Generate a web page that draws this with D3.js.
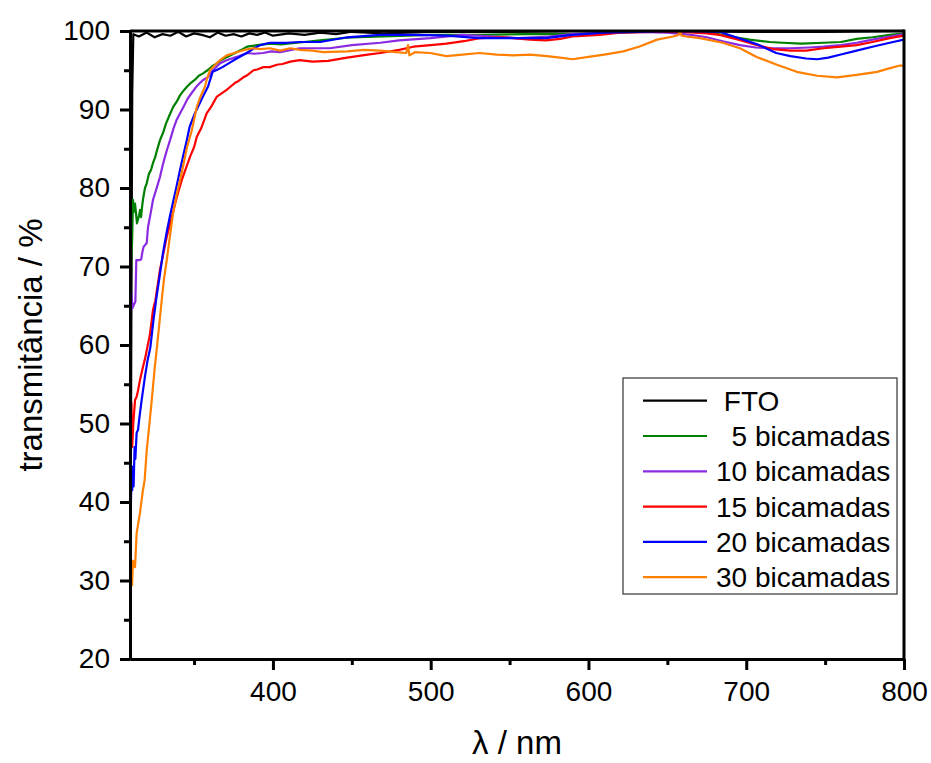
<!DOCTYPE html>
<html>
<head>
<meta charset="utf-8">
<script src="https://cdn.jsdelivr.net/npm/d3@7"></script>
<style>
  body { margin: 0; background: #fff; }
  text { font-family: "Liberation Sans", Arial, sans-serif; fill: #000; }
</style>
</head>
<body>
<div id="grafika"></div>
<script>
// wavelength (nm) and transmittance (%) per sample
const fto_wl = [309.6, 310.2, 310.8, 311.5, 315, 320, 325, 330, 335, 340, 345, 350, 355, 360, 365, 370, 375, 380, 385, 390, 395, 400, 410, 420, 430, 440, 450, 470, 500, 550, 600, 650, 700, 750, 800];
const fto_t = [22, 60, 92, 99.6, 99.3, 99.8, 99.2, 99.6, 99.4, 99.9, 99.3, 99.7, 99.5, 99.2, 99.8, 99.4, 99.6, 99.3, 99.7, 99.5, 99.8, 99.4, 99.7, 99.5, 99.8, 99.6, 99.9, 99.7, 99.9, 99.9, 100, 100, 99.9, 99.9, 100];

const b5_wl = [309.8, 310.3, 310.7, 311.3, 312, 312.6, 313.2, 313.8, 314.5, 315.1, 315.8, 316.4, 317, 317.6, 318.9, 320, 321.4, 322.7, 324, 325.3, 326.5, 328.4, 330.3, 332.2, 334.5, 336.7, 339, 341.1, 343.3, 345.5, 348, 350.6, 353, 355.7, 358.5, 361.4, 364, 366.5, 371, 376, 380, 383.6, 390, 398.2, 405, 415.3, 430, 450, 470, 500, 530, 560, 590, 620, 650, 670, 680, 690, 702, 715, 723, 735, 749, 760, 770, 780, 791, 800];
const b5_t = [65, 72, 73, 78.5, 77, 78, 76.8, 75.5, 76, 76.5, 77.2, 76.3, 77.5, 78.5, 80, 80.6, 81.8, 82.3, 83.2, 83.9, 84.8, 86.1, 87.0, 88.2, 89.3, 90.3, 91.0, 91.8, 92.4, 92.9, 93.4, 93.8, 94.3, 94.6, 95.0, 95.5, 95.8, 96.2, 96.7, 97.2, 97.6, 98.0, 98.2, 98.4, 98.3, 98.5, 98.8, 99.2, 99.3, 99.5, 99.5, 99.6, 99.6, 99.8, 100, 99.9, 99.7, 99.3, 98.9, 98.6, 98.5, 98.4, 98.5, 98.6, 99.0, 99.2, 99.5, 99.7];

const b10_wl = [309.8, 310.3, 311, 312, 312.8, 313.4, 315, 316.5, 317.2, 318, 320, 320.8, 322.5, 324, 326, 328.4, 330, 331.6, 333.2, 334.8, 337, 339, 341.1, 344, 346, 348.5, 351, 353.8, 356, 358.8, 362, 366.5, 371, 377, 383.4, 388, 393.7, 399, 404.5, 417, 436, 450, 468, 480, 500, 520, 540, 555, 575, 590, 610, 630, 650, 665, 675, 685, 696, 706, 717, 728, 740, 749, 760, 770, 780, 791, 800];
const b10_t = [62, 66.6, 64.7, 65.2, 65.5, 70.8, 70.8, 70.9, 71.8, 72.5, 73, 75, 76.8, 78.5, 79.8, 81.4, 82.8, 84, 85.1, 86.1, 87.6, 88.7, 89.5, 90.6, 91.4, 92.1, 92.8, 93.4, 93.8, 94.1, 95.0, 95.9, 96.3, 96.7, 97.2, 97.1, 97.2, 97.4, 97.3, 97.8, 97.8, 98.2, 98.5, 98.8, 99.1, 99.5, 99.3, 99.1, 99.3, 99.6, 99.8, 99.9, 99.8, 99.5, 99.2, 98.7, 98.2, 97.9, 97.8, 97.8, 97.9, 98.0, 98.2, 98.5, 98.9, 99.3, 99.6];

const b15_wl = [309.8, 310.3, 310.8, 311.5, 312.6, 313.6, 314.5, 315.7, 317.6, 319, 320.5, 322, 324, 325.5, 328.4, 330.5, 332.7, 334.5, 337, 339, 342.2, 345, 347.5, 350, 351.7, 354.5, 358, 361, 364.3, 367, 370.7, 373, 376, 378, 381.3, 384, 387.7, 390, 394, 398, 402.5, 406, 411, 417, 425, 435, 447, 460, 468, 480, 489, 500, 510, 521, 531, 545, 552, 563, 573, 582, 590, 607, 620, 640, 660, 675, 683, 695, 707, 717, 728, 738, 749, 760, 770, 780, 791, 800];
const b15_t = [46, 52.6, 47, 50, 53, 53.4, 54.2, 55.5, 57.2, 58.3, 59.8, 61.3, 64.5, 65.7, 69.6, 71.6, 73.8, 75.2, 77.2, 78.8, 81, 82.6, 84, 85.2, 86.5, 87.6, 89.5, 90.4, 91.6, 92.0, 92.5, 92.9, 93.4, 93.6, 94.1, 94.4, 95, 95.1, 95.4, 95.4, 95.7, 95.8, 96.1, 96.3, 96.1, 96.2, 96.6, 97.0, 97.2, 97.6, 98.0, 98.2, 98.4, 98.7, 99.1, 99.2, 99.1, 98.9, 98.8, 99.0, 99.3, 99.5, 99.8, 99.9, 99.9, 99.7, 99.5, 98.9, 98.2, 97.7, 97.5, 97.5, 97.8, 98.0, 98.2, 98.6, 99.1, 99.4];

const b20_wl = [309.8, 310.3, 310.8, 311.3, 311.7, 312.3, 312.8, 313.6, 314.5, 315.2, 316.8, 318.9, 320.5, 322.3, 324.3, 326.2, 328, 330.3, 332.5, 334.6, 336.8, 338.8, 341, 343, 345.3, 347.2, 350.5, 353.8, 356, 358.8, 361.8, 365, 368, 373, 377, 383.4, 388, 392, 398, 408.7, 417, 430, 447, 468, 489, 510, 531, 552, 573, 590, 610, 630, 660, 683, 695, 707, 719, 728, 738, 745, 752, 760, 770, 780, 791, 800];
const b20_t = [38, 42.8, 41.5, 44.5, 42, 47, 45.5, 48.8, 49.2, 50.5, 53, 56, 58, 59.7, 63.2, 66.1, 68.5, 71.7, 74.2, 76.3, 78.3, 80.1, 82.2, 84, 86, 87.8, 89.5, 90.9, 91.8, 92.9, 94.8, 95.1, 95.4, 96.0, 96.5, 97.2, 97.8, 98.2, 98.5, 98.5, 98.6, 98.6, 99.2, 99.5, 99.5, 99.4, 99.1, 99.1, 99.1, 99.5, 99.8, 99.9, 100, 99.9, 99.1, 98.3, 97.2, 96.8, 96.5, 96.4, 96.6, 97.0, 97.5, 98.0, 98.5, 98.9];

const b30_wl = [309.8, 310.3, 310.7, 311.3, 312.6, 313.6, 315.7, 317.6, 318.7, 320, 321.5, 323.2, 324.8, 326.3, 327.8, 329.5, 331, 332.7, 334.8, 336.7, 339, 341.1, 343.3, 345.3, 348.5, 351.7, 354, 356.9, 358, 360.1, 363, 366.5, 370.7, 377, 382, 387.4, 392, 398.2, 404.5, 411, 417, 425, 432, 447, 458, 468, 478, 484.5, 485.6, 486.5, 490, 499.6, 510, 520, 531, 542, 552, 563, 573.7, 582, 590, 600, 610, 622, 632, 643.5, 653.6, 657, 658, 659, 662, 670.7, 685, 696, 706.6, 719.5, 732, 745, 757.6, 770, 783, 790, 797.5, 800];
const b30_t = [29, 32.6, 29.4, 32.5, 31.7, 36, 38.6, 41.5, 42.8, 46.6, 49.5, 53, 56.5, 59.4, 62.3, 65.7, 68.5, 70.8, 74, 76.8, 79.2, 81, 83, 85, 87.3, 90.3, 91.6, 92.9, 93.8, 95, 95.6, 96.3, 96.9, 97.3, 97.6, 97.8, 97.7, 97.8, 97.5, 97.8, 97.6, 97.5, 97.3, 97.4, 97.6, 97.5, 97.3, 97.2, 98.2, 96.9, 97.3, 97.2, 96.8, 97.0, 97.2, 97.0, 96.9, 97.0, 96.8, 96.6, 96.4, 96.7, 97.0, 97.4, 98.0, 98.9, 99.3, 99.5, 100.2, 99.4, 99.3, 99.1, 98.5, 97.8, 96.7, 95.7, 94.8, 94.3, 94.1, 94.4, 94.8, 95.2, 95.6, 95.6];

const labels = [" FTO", "  5 bicamadas", "10 bicamadas", "15 bicamadas", "20 bicamadas", "30 bicamadas"];
const colors = ["#000000", "#008000", "#8a2be2", "#ff0000", "#0000ff", "#ff8000"];

const x_major = [400, 500, 600, 700, 800];
const x_minor = [350, 450, 550, 650, 750];
const y_major = [20, 30, 40, 50, 60, 70, 80, 90, 100];
const y_minor = [25, 35, 45, 55, 65, 75, 85, 95];

const series = [
	[fto_wl, fto_t], [b5_wl, b5_t], [b10_wl, b10_t],
	[b15_wl, b15_t], [b20_wl, b20_t], [b30_wl, b30_t]
].map(([wl, t], i) => ({
	label: labels[i],
	color: colors[i],
	values: wl.map((w, j) => [w, t[j]])
}));

const margins = { top: 31, right: 27, bottom: 104, left: 130 };
const full_w = 931, full_h = 763;
const width = full_w - margins.left - margins.right;
const height = full_h - margins.top - margins.bottom;

const x_scale = d3.scaleLinear().domain([309.4, 800]).range([0, width]);
const y_scale = d3.scaleLinear().domain([20, 100]).range([height, 0]);

const svg = d3.select("#grafika")
	.append("svg")
	.attr("width", full_w)
	.attr("height", full_h);

svg.append("defs").append("clipPath")
	.attr("id", "plot_clip")
	.append("rect")
	.attr("width", width)
	.attr("height", height);

const g = svg.append("g")
	.attr("transform", `translate(${margins.left}, ${margins.top})`);

const line = d3.line()
	.x(d => x_scale(d[0]))
	.y(d => y_scale(d[1]));

g.append("g")
	.attr("clip-path", "url(#plot_clip)")
	.selectAll("path")
	.data(series)
	.enter()
	.append("path")
	.attr("fill", "none")
	.attr("stroke", d => d.color)
	.attr("stroke-width", 2.2)
	.attr("stroke-linejoin", "round")
	.attr("d", d => line(d.values));

// frame top / right
g.append("line")
	.attr("x1", 0).attr("x2", width)
	.attr("y1", 0).attr("y2", 0)
	.attr("stroke", "#000").attr("stroke-width", 3);
g.append("line")
	.attr("x1", width).attr("x2", width)
	.attr("y1", -1.5).attr("y2", height)
	.attr("stroke", "#000").attr("stroke-width", 3);

const style_axis = sel => {
	sel.select(".domain").attr("stroke-width", 3);
	sel.selectAll(".tick line").attr("stroke-width", 3);
	sel.selectAll(".tick text").attr("font-size", "28px");
};

// minor ticks
g.append("g")
	.attr("transform", `translate(0, ${height})`)
	.call(d3.axisBottom(x_scale).tickValues(x_minor).tickSize(6).tickSizeOuter(0).tickFormat(""))
	.call(style_axis);
g.append("g")
	.call(d3.axisLeft(y_scale).tickValues(y_minor).tickSize(6).tickSizeOuter(0).tickFormat(""))
	.call(style_axis);

// major ticks
g.append("g")
	.attr("class", "x axis")
	.attr("transform", `translate(0, ${height})`)
	.call(d3.axisBottom(x_scale).tickValues(x_major).tickSize(11).tickSizeOuter(0).tickPadding(11))
	.call(style_axis);
g.append("g")
	.attr("class", "y axis")
	.call(d3.axisLeft(y_scale).tickValues(y_major).tickSize(10).tickSizeOuter(0).tickPadding(10))
	.call(style_axis);

svg.append("text")
	.attr("x", margins.left + width / 2)
	.attr("y", 754)
	.attr("text-anchor", "middle")
	.attr("font-size", "33px")
	.text("λ / nm");

svg.append("text")
	.attr("transform", `translate(42, ${margins.top + height / 2}) rotate(-90)`)
	.attr("text-anchor", "middle")
	.attr("font-size", "33px")
	.text("transmitância / %");

// legend
const legend = svg.append("g")
	.attr("transform", "translate(623, 378)");

legend.append("rect")
	.attr("width", 274)
	.attr("height", 216)
	.attr("fill", "#fff")
	.attr("stroke", "#333")
	.attr("stroke-width", 1.2);

const rows = legend.selectAll(".row")
	.data(series)
	.enter()
	.append("g")
	.attr("class", "row")
	.attr("transform", (d, i) => `translate(0, ${22.7 + i * 35.3})`);

rows.append("line")
	.attr("x1", 20).attr("x2", 84)
	.attr("stroke", d => d.color)
	.attr("stroke-width", 2.2);

rows.append("text")
	.attr("x", 93)
	.attr("dy", "0.36em")
	.attr("font-size", "28px")
	.style("white-space", "pre")
	.text(d => d.label);
</script>
</body>
</html>
